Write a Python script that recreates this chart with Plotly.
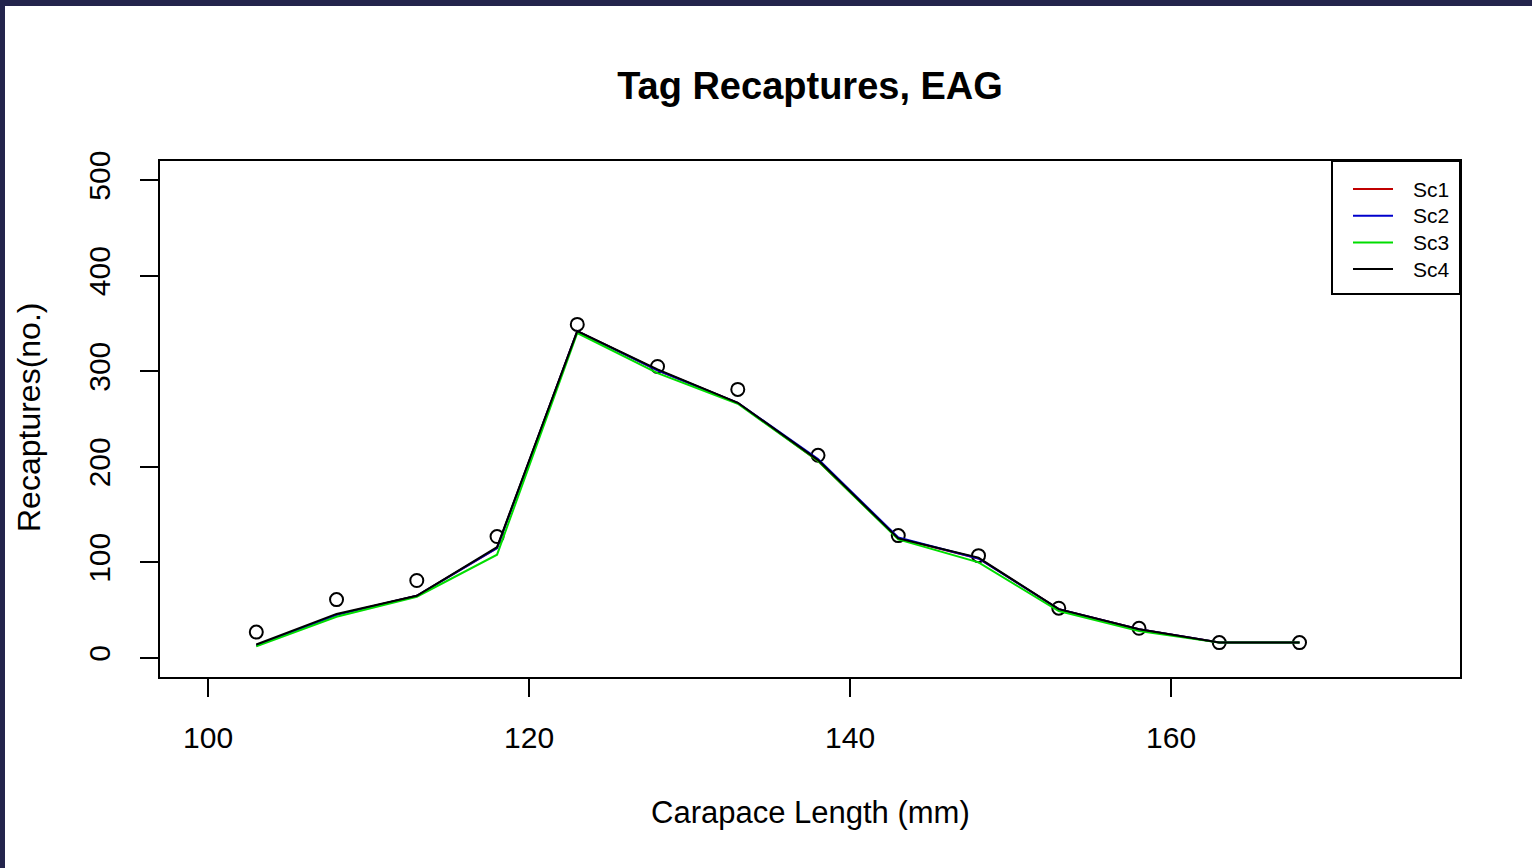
import plotly.graph_objects as go

# Carapace length classes (mm) and recapture counts
length_mm = [103, 108, 113, 118, 123, 128, 133, 138, 143, 148, 153, 158, 163, 168]
observed = [27, 61, 81, 127, 349, 305, 281, 212, 128, 107, 52, 31, 16, 16]
sc1 = [13, 45, 65, 115, 342, 301, 267, 206, 125, 104, 51, 30, 16, 16]
sc2 = [13, 45, 65, 115, 342, 301, 267, 208, 126, 104, 51, 30, 16, 16]
sc3 = [12, 43, 64, 108, 340, 298, 266, 206, 124, 100, 49, 28, 16, 16]
sc4 = [14, 46, 65, 116, 342, 302, 267, 207, 125, 105, 51, 30, 16, 16]

series_names = ["Sc1", "Sc2", "Sc3", "Sc4"]
series_colors = ["#c00000", "#0000cc", "#00dd00", "#000000"]

x_ticks = [100, 120, 140, 160]
y_ticks = [0, 100, 200, 300, 400, 500]

FONT = "Liberation Sans, Arial, sans-serif"
W, H = 1532, 868
L, R, T, B = 160, 72, 161, 191
pw = W - L - R
ph = H - T - B


def px_x(p):
    """pixel column -> paper x"""
    return (p - L) / pw


def px_y(p):
    """pixel row -> paper y"""
    return (T + ph - p) / ph


fig = go.Figure()

fig.add_trace(go.Scatter(
    x=length_mm, y=observed, mode="markers", showlegend=False,
    marker=dict(symbol="circle-open", size=13, color="black", line=dict(width=2)),
))
for name, vals, col in zip(series_names, [sc1, sc2, sc3, sc4], series_colors):
    fig.add_trace(go.Scatter(
        x=length_mm, y=vals, mode="lines", name=name, showlegend=False,
        line=dict(color=col, width=2),
    ))

axis_common = dict(
    showline=True, mirror=True, linecolor="black", linewidth=2,
    ticks="outside", ticklen=18, tickwidth=2, tickcolor="black",
    showgrid=False, zeroline=False,
    tickfont=dict(family=FONT, size=30, color="black"),
)

fig.update_xaxes(range=[97, 178], tickvals=x_ticks, ticklabelstandoff=15, **axis_common)
fig.update_yaxes(range=[-20, 520], tickvals=y_ticks, tickangle=-90,
                 ticklabelstandoff=18, **axis_common)

# outer frame bands
fig.add_shape(type="rect", xref="paper", yref="paper",
              x0=px_x(0), x1=px_x(W), y0=px_y(6), y1=px_y(0),
              fillcolor="#23244c", line=dict(width=0), layer="above")
fig.add_shape(type="rect", xref="paper", yref="paper",
              x0=px_x(0), x1=px_x(5), y0=px_y(H), y1=px_y(0),
              fillcolor="#23244c", line=dict(width=0), layer="above")

# legend box in the top-right corner of the panel
fig.add_shape(type="rect", xref="paper", yref="paper",
              x0=px_x(1332), x1=1, y0=px_y(294), y1=1,
              fillcolor="white", line=dict(color="black", width=2), layer="above")
for i, (name, col) in enumerate(zip(series_names, series_colors)):
    ry = 189 + i * 26.7
    fig.add_shape(type="line", xref="paper", yref="paper",
                  x0=px_x(1353), x1=px_x(1393), y0=px_y(ry), y1=px_y(ry),
                  line=dict(color=col, width=2), layer="above")
    fig.add_annotation(text=name, xref="paper", yref="paper",
                       x=px_x(1411), y=px_y(ry), showarrow=False,
                       xanchor="left", yanchor="middle",
                       font=dict(family=FONT, size=21, color="black"))

fig.add_annotation(text="Carapace Length (mm)", xref="paper", yref="paper",
                   x=0.5, y=px_y(812), showarrow=False,
                   font=dict(family=FONT, size=31, color="black"),
                   xanchor="center", yanchor="middle")
fig.add_annotation(text="Recaptures(no.)", xref="paper", yref="paper",
                   x=px_x(29), y=px_y(418), showarrow=False, textangle=-90,
                   font=dict(family=FONT, size=32, color="black"),
                   xanchor="center", yanchor="middle")

fig.update_layout(
    width=W, height=H,
    margin=dict(l=L, r=R, t=T, b=B),
    paper_bgcolor="white", plot_bgcolor="white",
    showlegend=False,
    title=dict(text="<b>Tag Recaptures, EAG</b>", x=0.5, xref="paper",
               y=1 - 86 / H, yanchor="middle",
               font=dict(family=FONT, size=38, color="black")),
)

fig.write_html("out.html")
